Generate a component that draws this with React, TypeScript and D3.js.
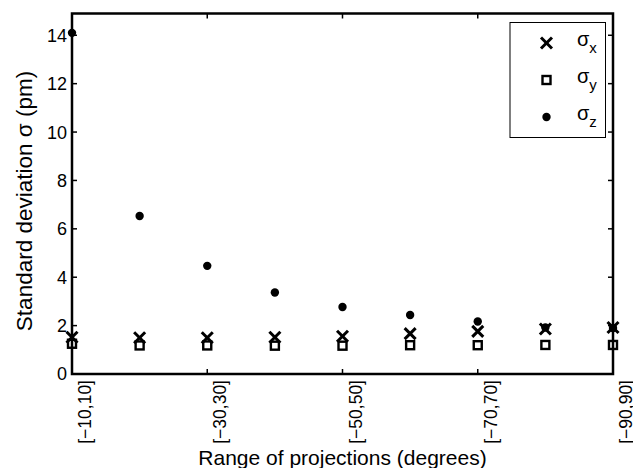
import React from "react";
import * as d3 from "d3";

const categories = ["[−10,10]", "[−20,20]", "[−30,30]", "[−40,40]", "[−50,50]", "[−60,60]", "[−70,70]", "[−80,80]", "[−90,90]"];
const tickLabelIndex = [0, 2, 4, 6, 8];
const sigmaX = [1.52, 1.5, 1.5, 1.52, 1.56, 1.67, 1.76, 1.86, 1.92];
const sigmaY = [1.25, 1.18, 1.18, 1.17, 1.17, 1.19, 1.19, 1.2, 1.2];
const sigmaZ = [14.1, 6.53, 4.47, 3.37, 2.77, 2.44, 2.17, 1.92, 1.9];
const yTicks = [0, 2, 4, 6, 8, 10, 12, 14];

const W = 633, H = 468;
const L = 72, R = 613, T = 13.5, B = 374;
const FONT = "'Liberation Sans', Arial, Helvetica, sans-serif";

function XMark({ x, y, s = 5.5 }: { x: number; y: number; s?: number }) {
  return (
    <g stroke="#000" strokeWidth={3}>
      <line x1={x - s} y1={y - s} x2={x + s} y2={y + s} />
      <line x1={x - s} y1={y + s} x2={x + s} y2={y - s} />
    </g>
  );
}
function SqMark({ x, y, s = 4 }: { x: number; y: number; s?: number }) {
  return <rect x={x - s} y={y - s} width={2 * s} height={2 * s} fill="#fff" stroke="#000" strokeWidth={2.4} />;
}
function DotMark({ x, y }: { x: number; y: number }) {
  return <circle cx={x} cy={y} r={4.2} fill="#000" />;
}

export default function App() {
  const xs = d3.scaleLinear().domain([1, 9]).range([L, R]);
  const ys = d3.scaleLinear().domain([0, 14.9]).range([B, T]);
  const idx = categories.map((_, i) => i);
  const tl = 5;
  return (
    <svg width={W} height={H} style={{ position: "absolute", left: 0, top: 0, background: "#fff" }} fontFamily={FONT}>
      <rect x={0} y={0} width={W} height={H} fill="#fff" />
      {/* ticks */}
      <g stroke="#000" strokeWidth={1.5}>
        {yTicks.map((t) => (
          <g key={t}>
            <line x1={L} x2={L + tl} y1={ys(t)} y2={ys(t)} />
            <line x1={R} x2={R - tl} y1={ys(t)} y2={ys(t)} />
          </g>
        ))}
        {tickLabelIndex.map((i) => (
          <g key={i}>
            <line x1={xs(i + 1)} x2={xs(i + 1)} y1={B} y2={B - tl} />
            <line x1={xs(i + 1)} x2={xs(i + 1)} y1={T} y2={T + tl} />
          </g>
        ))}
      </g>
      {/* data */}
      {idx.map((i) => (
        <DotMark key={"z" + i} x={xs(i + 1)} y={ys(sigmaZ[i])} />
      ))}
      {idx.map((i) => (
        <SqMark key={"y" + i} x={xs(i + 1)} y={ys(sigmaY[i])} />
      ))}
      {idx.map((i) => (
        <XMark key={"x" + i} x={xs(i + 1)} y={ys(sigmaX[i])} />
      ))}
      {/* axes box */}
      <rect x={L} y={T} width={R - L} height={B - T} fill="none" stroke="#000" strokeWidth={2.5} />
      {/* y tick labels */}
      {yTicks.map((t) => (
        <text key={t} x={L - 5} y={ys(t)} dy="0.36em" textAnchor="end" fontSize={18}>
          {t}
        </text>
      ))}
      {/* x tick labels */}
      {tickLabelIndex.map((i) => (
        <text
          key={i}
          transform={`translate(${xs(i + 1) + 13},${B + 6}) rotate(-90)`}
          textAnchor="end"
          dy="0.35em"
          fontSize={17.5}
        >
          {categories[i]}
        </text>
      ))}
      {/* titles */}
      <text x={(L + R) / 2} y={465} textAnchor="middle" fontSize={21}>
        Range of projections (degrees)
      </text>
      <text transform={`translate(32,201) rotate(-90)`} textAnchor="middle" fontSize={22.5}>
        Standard deviation σ (pm)
      </text>
      {/* legend */}
      <rect x={510} y={22.5} width={95.5} height={115} fill="#fff" stroke="#000" strokeWidth={1} />
      <XMark x={546.5} y={43} />
      <SqMark x={546.5} y={80} />
      <DotMark x={546.5} y={117} />
      {[
        { y: 43, s: "x" },
        { y: 80, s: "y" },
        { y: 117, s: "z" },
      ].map((r) => (
        <text key={r.s} x={577} y={r.y + 3} fontSize={20}>
          σ
          <tspan fontSize={15} dy={7}>
            {r.s}
          </tspan>
        </text>
      ))}
    </svg>
  );
}
